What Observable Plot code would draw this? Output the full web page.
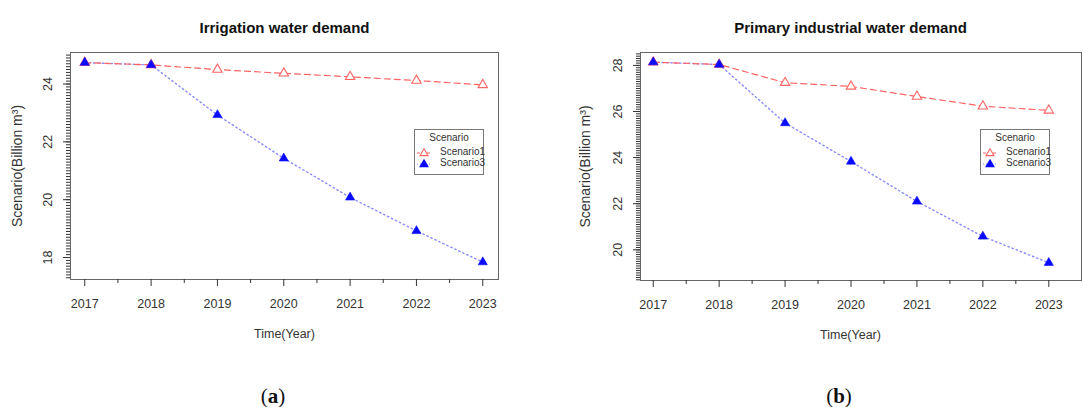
<!DOCTYPE html>
<html>
<head>
<meta charset="utf-8">
<script src="https://cdn.jsdelivr.net/npm/d3@7"></script>
<script src="https://cdn.jsdelivr.net/npm/@observablehq/plot@0.6"></script>
<style>
  html, body { margin: 0; padding: 0; background: #fff; }
  #wrap { position: relative; width: 1083px; height: 407px; overflow: hidden; font-family: "Liberation Sans", Arial, sans-serif; }
  .panel { position: absolute; top: 0; }
  .legend { position: absolute; border: 1px solid #777; background: #fff; box-sizing: border-box; font-size: 10px; color: #333; }
  .legend .ttl { position: absolute; left: 0; right: 0; text-align: center; }
  .legend .row { position: absolute; left: 0; right: 0; height: 11px; }
  .legend .row svg { position: absolute; left: 0; top: 0; }
  .legend .row span { position: absolute; left: 25px; top: -1px; line-height: 12px; }
  .cap { position: absolute; width: 100px; text-align: center; font-family: "Liberation Serif", "DejaVu Serif", serif; font-size: 21px; line-height: 24px; color: #111; }
</style>
</head>
<body>
<div id="wrap"></div>
<script>
// ---- data ----
const years = [2017, 2018, 2019, 2020, 2021, 2022, 2023];
const irrigationS1 = [24.74, 24.66, 24.50, 24.37, 24.25, 24.12, 23.97];
const irrigationS3 = [24.74, 24.66, 22.93, 21.43, 20.08, 18.92, 17.84];
const industrialS1 = [28.14, 28.04, 27.25, 27.09, 26.65, 26.23, 26.05];
const industrialS3 = [28.14, 28.04, 25.50, 23.83, 22.10, 20.58, 19.44];
const scenarios = ["Scenario1", "Scenario3"];
const yTicksA = [18, 20, 22, 24];
const yTicksB = [20, 22, 24, 26, 28];
const titles = ["Irrigation water demand", "Primary industrial water demand"];
const xLabel = "Time(Year)";
const yLabel = "Scenario(Billion m³)";
const legendTitle = "Scenario";
const captions = ["a", "b"];

// ---- styles ----
const s1Color = "#ff6464";
const s3Line = "#8a8aff";
const s3Fill = "#0a0aff";

function rows(s1, s3) {
  const out = [];
  years.forEach((yr, i) => {
    out.push({year: yr, value: s1[i], scenario: scenarios[0]});
  });
  years.forEach((yr, i) => {
    out.push({year: yr, value: s3[i], scenario: scenarios[1]});
  });
  return out;
}

function panel({data, yTicks, xDomain, yDomain, width, marginLeft, marginRight, marginBottom, title, titleDx, ylabDx}) {
  const d1 = data.filter(d => d.scenario === scenarios[0]);
  const d3s = data.filter(d => d.scenario === scenarios[1]);
  const minorY = d3.ticks(yDomain[0], yDomain[1], 80);
  const minorX = d3.range(years[0] + 0.5, years[years.length - 1], 1);
  return Plot.plot({
    width, height: 407,
    marginLeft, marginRight, marginTop: 52, marginBottom,
    style: {fontFamily: '"Liberation Sans", Arial, sans-serif', fontSize: "12px", color: "#333", background: "transparent", overflow: "visible"},
    x: {domain: xDomain, label: null},
    y: {domain: yDomain, label: null},
    marks: [
      Plot.frame({stroke: "#666"}),
      Plot.axisY({ticks: minorY, tickSize: 4, tickFormat: () => "", label: null}),
      Plot.axisY({ticks: yTicks, tickSize: 7, tickRotate: -90, tickPadding: 12, tickFormat: d => String(d), label: null, fontSize: 12.5}),
      Plot.axisX({ticks: minorX, tickSize: 4, tickFormat: () => "", label: null}),
      Plot.axisX({ticks: years, tickSize: 7, tickPadding: 13, tickFormat: d => String(d), label: null, fontSize: 12.5}),
      Plot.line(d3s, {x: "year", y: "value", stroke: s3Line, strokeWidth: 1.4, strokeDasharray: "1.4,3"}),
      Plot.line(d1, {x: "year", y: "value", stroke: s1Color, strokeWidth: 1.2, strokeDasharray: "6,4"}),
      Plot.dot(d1, {x: "year", y: "value", symbol: "triangle", r: 3.5, stroke: s1Color, fill: "white", strokeWidth: 1.1}),
      Plot.dot(d3s, {x: "year", y: "value", symbol: "triangle", r: 3.4, fill: s3Fill, stroke: s3Fill, strokeWidth: 0.6}),
      Plot.text([title], {text: d => d, frameAnchor: "top", dy: -30, dx: titleDx, fontSize: 15, fontWeight: "bold", fill: "#111"}),
      Plot.text([xLabel], {text: d => d, frameAnchor: "bottom", dy: 58, dx: titleDx, fontSize: 12.5, fill: "#333"}),
      Plot.text([yLabel], {text: d => d, frameAnchor: "left", textAnchor: "middle", dx: ylabDx, rotate: -90, fontSize: 14, fill: "#333"})
    ]
  });
}

function legend(left, top) {
  const el = document.createElement("div");
  el.className = "legend";
  el.style.left = left + "px";
  el.style.top = top + "px";
  el.style.width = "70px";
  el.style.height = "46px";
  const t = document.createElement("div");
  t.className = "ttl";
  t.style.top = "2px";
  t.textContent = legendTitle;
  el.appendChild(t);
  const specs = [
    {name: scenarios[0], line: s1Color, dash: "3,2", fill: "white", stroke: s1Color},
    {name: scenarios[1], line: s3Line, dash: "1,2", fill: s3Fill, stroke: s3Fill}
  ];
  specs.forEach((s, i) => {
    const r = document.createElement("div");
    r.className = "row";
    r.style.top = (17 + i * 11) + "px";
    r.innerHTML = `<svg width="22" height="11"><line x1="2" x2="16" y1="6" y2="6" stroke="${s.line}" stroke-dasharray="${s.dash}" stroke-width="1.2"/><path d="M9,1.8 L13,8.6 L5,8.6 Z" fill="${s.fill}" stroke="${s.stroke}" stroke-width="1.1"/></svg><span>${s.name}</span>`;
    el.appendChild(r);
  });
  return el;
}

const wrap = document.getElementById("wrap");

const pa = document.createElement("div");
pa.className = "panel"; pa.style.left = "0px";
pa.appendChild(panel({
  data: rows(irrigationS1, irrigationS3), yTicks: yTicksA,
  xDomain: [2016.785, 2023.237], yDomain: [17.24, 25.09],
  width: 541, marginLeft: 70, marginRight: 43, marginBottom: 128,
  title: titles[0], titleDx: 0, ylabDx: -53
}));
wrap.appendChild(pa);

const pb = document.createElement("div");
pb.className = "panel"; pb.style.left = "541px";
pb.appendChild(panel({
  data: rows(industrialS1, industrialS3), yTicks: yTicksB,
  xDomain: [2016.807, 2023.496], yDomain: [18.67, 28.56],
  width: 542, marginLeft: 99, marginRight: 2, marginBottom: 127,
  title: titles[1], titleDx: -10.5, ylabDx: -54.5
}));
wrap.appendChild(pb);

wrap.appendChild(legend(414, 129));
wrap.appendChild(legend(980, 129));

[[captions[0], 273], [captions[1], 839]].forEach(([c, cx]) => {
  const d = document.createElement("div");
  d.className = "cap";
  d.style.left = (cx - 50) + "px";
  d.style.top = "384px";
  d.innerHTML = `(<b>${c}</b>)`;
  wrap.appendChild(d);
});
</script>
</body>
</html>
